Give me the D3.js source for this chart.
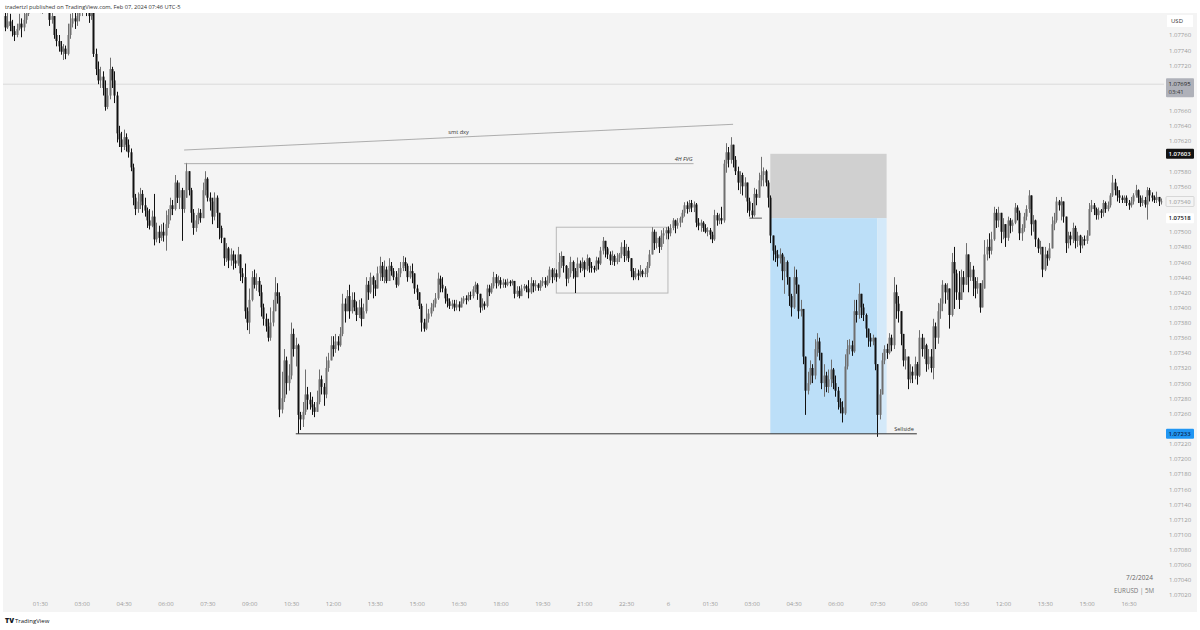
<!DOCTYPE html>
<html><head><meta charset="utf-8">
<script src="https://cdn.jsdelivr.net/npm/d3@7"></script>
<style>html,body{margin:0;padding:0;background:#fff;}svg{display:block;font-family:"Open Sans",sans-serif;}</style>
</head><body><svg id="c" width="1200" height="630"></svg>
<script>
// EURUSD 5M — prices stored as points above 1.07000 (price = 1.07 + v/100000)
const firstOpen = 785;
const closes = [
770,778,772,765,760,768,775,770,780,788, 795,800,805,798,802,796,800,805,795,780,
785,760,752,745,738,742,735,760,775,782, 778,785,790,795,800,792,785,790,735,715,
700,705,690,665,680,715,700,680,630,622, 612,625,615,605,585,545,530,540,550,535,
528,515,508,520,490,500,492,500,495,510, 522,535,530,565,545,555,530,545,580,555,
525,505,515,525,518,555,570,545,540,520, 545,525,505,492,465,478,462,470,462,458,
470,445,440,395,380,410,440,430,435,420, 400,385,375,360,380,395,420,415,265,280,
330,300,310,365,345,350,258,252,262,285, 278,272,268,262,275,305,295,285,320,330,
350,345,355,350,365,405,395,415,395,410, 400,390,400,385,395,430,420,440,430,425,
445,455,440,450,435,455,448,440,430,445, 452,460,455,440,448,445,425,420,402,380,
372,385,392,400,405,412,438,430,425,412, 408,402,405,400,404,400,408,412,410,416,
415,424,430,418,400,405,402,425,420,428, 440,432,436,430,433,430,434,432,435,418,
422,415,425,428,425,420,432,428,430,426, 432,435,430,436,450,440,445,440,460,468,
455,438,445,460,448,440,458,452,460,450, 465,455,452,450,462,458,475,488,478,470,
462,468,460,465,470,480,468,475,465,448, 440,445,442,448,444,446,455,470,500,485,
492,480,495,498,502,498,505,515,508,512, 518,525,535,530,538,532,536,512,508,512,
505,500,502,496,490,522,515,518,515,590, 605,595,615,595,580,565,575,560,565,540,
528,522,550,545,568,575,580,565,545,495, 475,470,465,470,448,460,440,415,400,440,
430,395,398,335,290,300,320,310,345,355, 340,300,310,295,305,318,300,290,275,268,
260,322,345,350,342,395,390,418,400,390, 372,360,355,360,325,258,285,330,345,340,
360,350,420,405,395,365,330,335,305,315, 310,325,310,360,345,350,325,335,320,375,
360,395,405,430,420,425,390,460,445,420, 410,440,430,470,440,450,435,425,432,400,
425,470,480,475,490,525,515,525,500,510, 492,515,508,512,532,525,498,505,520,530,
548,510,515,490,478,480,450,470,465,478, 510,515,540,535,540,520,485,495,490,505,
488,495,482,490,488,495,530,535,530,522, 528,525,538,530,535,548,565,555,548,545,
542,545,538,535,540,548,555,545,538,542, 536,555,548,545,542,546,540,540
];
const highs = [
792,790,788,780,772,775,788,782,792,798, 805,808,812,810,808,805,808,812,808,800,
795,785,768,760,752,748,746,775,788,792, 792,795,800,805,808,805,800,798,790,742,
725,718,712,700,690,730,718,712,685,640, 632,635,630,622,610,590,550,552,558,555,
545,532,530,528,550,512,508,510,512,528, 530,545,542,575,568,565,558,555,591,575,
558,530,522,531,530,565,580,572,552,545, 552,548,525,508,488,485,480,478,475,470,
480,470,452,458,400,425,448,450,445,440, 430,405,392,385,400,410,440,432,420,315,
345,335,325,380,372,360,352,262,275,318, 295,288,282,275,290,318,310,300,335,340,
362,362,365,362,374,418,412,423,430,420, 420,408,410,412,405,440,435,446,442,436,
454,467,460,462,454,465,460,452,448,452, 460,468,466,458,455,458,445,430,420,405,
385,405,398,406,410,419,446,442,440,428, 418,412,410,410,410,408,413,415,416,420,
421,428,434,432,416,412,408,430,430,432, 447,444,442,440,438,437,438,436,437,434,
428,428,430,431,430,436,440,436,436,432, 436,440,440,442,454,452,452,450,472,474,
468,456,452,467,462,452,466,462,466,462, 470,466,460,455,467,466,480,493,488,480,
474,475,470,472,472,486,489,484,480,465, 452,452,450,456,450,452,460,476,506,503,
500,494,502,505,506,507,510,518,516,518, 520,529,539,540,542,542,540,538,518,516,
514,510,506,505,500,529,525,524,533,595, 617,612,625,615,600,586,580,578,572,562,
545,538,558,556,578,599,585,582,568,548, 492,482,476,478,472,467,462,440,418,454,
450,428,410,395,335,315,330,325,358,366, 360,320,325,315,318,331,320,310,295,280,
276,338,357,358,356,410,410,432,415,405, 392,372,366,364,358,325,292,340,350,352,
366,364,440,430,415,395,360,345,335,325, 322,335,328,370,365,360,352,345,345,385,
380,406,412,436,432,432,420,472,480,450, 448,450,448,485,466,460,455,440,440,432,
436,489,490,498,500,533,530,533,525,518, 510,520,518,516,538,535,528,510,525,535,
555,540,522,516,492,488,480,480,475,485, 520,525,546,542,546,540,515,500,500,512,
508,500,496,493,495,502,538,542,538,532, 532,530,542,540,540,551,575,570,560,555,
548,548,548,542,546,551,562,556,548,548, 546,559,558,552,548,553,546,544
];
const lows = [
765,768,765,758,752,757,766,757,765,775, 785,792,796,792,793,789,788,797,790,772,
775,755,745,738,734,727,728,733,755,770, 768,772,778,785,790,785,776,780,731,707,
695,690,680,660,662,675,690,670,618,612, 605,608,606,598,580,535,522,525,530,525,
520,505,503,506,482,486,485,488,487,475, 505,515,522,528,538,530,488,525,545,548,
512,496,500,510,512,525,548,540,528,510, 515,505,490,485,455,460,452,455,450,452,
455,435,432,385,370,365,408,425,422,415, 388,376,368,355,356,375,400,405,255,260,
275,285,290,305,335,322,233,238,242,258, 265,265,258,255,262,272,285,270,280,315,
332,335,340,343,348,362,380,395,385,392, 395,382,386,375,388,392,410,418,412,415,
425,435,435,432,432,438,442,436,426,428, 440,448,448,434,438,432,418,410,398,368,
368,370,380,388,395,400,410,420,420,405, 400,398,398,395,396,395,400,405,404,408,
410,412,420,410,393,396,397,400,415,418, 425,425,428,425,426,426,428,428,429,412,
414,412,418,422,420,412,418,420,422,422, 422,428,426,428,432,432,436,434,438,452,
446,428,432,440,438,419,440,446,448,440, 448,446,446,446,448,450,456,470,466,464,
456,456,455,457,460,465,460,462,460,440, 436,437,436,440,440,440,440,452,470,476,
478,472,476,484,490,490,494,502,498,504, 506,512,520,524,526,526,526,506,502,500,
500,498,494,490,485,488,508,510,510,512, 578,585,590,585,575,555,550,548,545,525,
520,518,520,535,545,560,560,560,532,485, 462,460,454,458,436,418,430,402,388,398,
418,385,388,325,258,285,298,300,305,335, 330,292,282,288,287,295,292,282,265,260,
248,258,318,338,336,340,380,385,386,382, 360,348,348,350,317,229,252,285,325,332,
338,342,345,385,380,350,322,318,292,300, 300,305,298,308,335,332,315,318,314,305,
345,352,385,395,405,410,372,388,398,410, 398,418,420,430,420,435,415,412,418,393,
405,425,462,465,470,488,505,506,485,490, 480,488,498,500,510,515,489,488,500,515,
525,495,500,480,472,470,440,448,455,462, 478,502,512,528,515,512,472,478,482,485,
478,480,472,478,482,484,495,526,522,516, 516,518,520,525,527,532,546,548,540,538,
538,538,534,529,532,536,545,538,533,534, 532,516,540,540,538,538,534,536
];
// bar times: minutes after 00:00 of day 5, one bar each 5 minutes
const firstBarMinute = 15;
const barMinutes = 5;

const timeTicks = [90,180,270,360,450,540,630,720,810,900,990,1080,1170,1260,1350,1440,1530,1620,1710,1800,1890,1980,2070,2160,2250,2340,2430];
const timeTickLabels = ["01:30","03:00","04:30","06:00","07:30","09:00","10:30","12:00","13:30","15:00","16:30","18:00","19:30","21:00","22:30","6","01:30","03:00","04:30","06:00","07:30","09:00","10:30","12:00","13:30","15:00","16:30"];
const priceTicks = [1.0776,1.0774,1.0772,1.077,1.0768,1.0766,1.0764,1.0762,1.076,1.0758,1.0756,1.0754,1.0752,1.075,1.0748,1.0746,1.0744,1.0742,1.074,1.0738,1.0736,1.0734,1.0732,1.073,1.0728,1.0726,1.0724,1.0722,1.072,1.0718,1.0716,1.0714,1.0712,1.071,1.0708,1.0706,1.0704,1.0702];

// drawings (time in minutes, price)
const smtLine = {t:[400,1580], p:[1.07608,1.07642], label:"smt dxy"};
const fvgLine = {t:[400,1495], p:1.07590, label:"4H FVG"};
const rangeBox = {t:[1200,1440], p:[1.07506,1.07419]};
const entryMark = {t:[1615,1642], p:1.07518};
const position = {t:[1660,1890,1910], stop:1.07603, entry:1.07518, target:1.07233};
const sellside = {t:[640,1975], p:1.07233, label:"Sellside"};
const refLine = {p:1.07695, label:"1.07695", sub:"03:41"};
const lastPrice = 1.07540;

const svg = d3.select("#c");
const nBars = closes.length;
const x = d3.scaleLinear().domain([firstBarMinute, firstBarMinute + (nBars-1)*barMinutes]).range([5, 1161.1]);
const y = d3.scaleLinear().domain([1.0702, 1.0776]).range([595, 35]);
const P = v => 1.07 + v/100000;

const bars = closes.map((c,i)=>{
  const o = i===0 ? firstOpen : closes[i-1];
  return {t:firstBarMinute+i*barMinutes, o:P(o), c:P(c), h:P(Math.max(highs[i],o,c)), l:P(Math.min(lows[i],o,c))};
});

// pane
svg.append("rect").attr("x",3).attr("y",13).attr("width",1194).attr("height",599).attr("fill","#f4f4f4");
svg.append("defs").append("clipPath").attr("id","clip").append("rect").attr("x",3).attr("y",13).attr("width",1161).attr("height",585);
const plot = svg.append("g").attr("clip-path","url(#clip)");

// reference horizontal line
plot.append("line").attr("x1",3).attr("x2",1164).attr("y1",y(refLine.p)).attr("y2",y(refLine.p)).attr("stroke","#dadada").attr("stroke-width",1);

// position tool
const pos = position;
plot.append("rect").attr("x",x(pos.t[0])).attr("width",x(pos.t[2])-x(pos.t[0])).attr("y",y(pos.stop)).attr("height",y(pos.entry)-y(pos.stop)).attr("fill","#d0d0d0");
plot.append("rect").attr("x",x(pos.t[0])).attr("width",x(pos.t[1])-x(pos.t[0])).attr("y",y(pos.entry)).attr("height",y(pos.target)-y(pos.entry)).attr("fill","#bcdff8");
plot.append("rect").attr("x",x(pos.t[1])).attr("width",x(pos.t[2])-x(pos.t[1])).attr("y",y(pos.entry)).attr("height",y(pos.target)-y(pos.entry)).attr("fill","#d4e9f9");

// range box
plot.append("rect").attr("x",x(rangeBox.t[0])).attr("width",x(rangeBox.t[1])-x(rangeBox.t[0])).attr("y",y(rangeBox.p[0])).attr("height",y(rangeBox.p[1])-y(rangeBox.p[0])).attr("fill","none").attr("stroke","#b8b8b8").attr("stroke-width",1);

// candles
const upC = "#6f6f6f", dnC = "#111111";
const cg = plot.append("g");
cg.selectAll("line").data(bars).join("line")
  .attr("x1",d=>Math.round(x(d.t))+0.5).attr("x2",d=>Math.round(x(d.t))+0.5)
  .attr("y1",d=>y(d.h)).attr("y2",d=>y(d.l))
  .attr("stroke",d=>d.c>=d.o?upC:dnC).attr("stroke-width",1);
cg.selectAll("rect").data(bars).join("rect")
  .attr("x",d=>Math.round(x(d.t))-0.5).attr("width",2)
  .attr("y",d=>y(Math.max(d.o,d.c))).attr("height",d=>Math.max(0.8,Math.abs(y(d.o)-y(d.c))))
  .attr("fill",d=>d.c>=d.o?upC:dnC);

// drawings
plot.append("line").attr("x1",x(smtLine.t[0])).attr("x2",x(smtLine.t[1])).attr("y1",y(smtLine.p[0])).attr("y2",y(smtLine.p[1])).attr("stroke","#9a9a9a").attr("stroke-width",0.8);
const smid = (smtLine.t[0]+smtLine.t[1])/2, spm = (smtLine.p[0]+smtLine.p[1])/2;
plot.append("text").attr("x",x(smid)).attr("y",y(spm)-3.5).attr("text-anchor","middle").attr("font-size",5.6).attr("fill","#333").text(smtLine.label);
plot.append("line").attr("x1",x(fvgLine.t[0])).attr("x2",x(fvgLine.t[1])).attr("y1",y(fvgLine.p)).attr("y2",y(fvgLine.p)).attr("stroke","#9a9a9a").attr("stroke-width",0.8);
plot.append("text").attr("x",x(fvgLine.t[1])-1).attr("y",y(fvgLine.p)-3).attr("text-anchor","end").attr("font-size",5.6).attr("font-style","italic").attr("fill","#333").text(fvgLine.label);
plot.append("line").attr("x1",x(entryMark.t[0])).attr("x2",x(entryMark.t[1])).attr("y1",y(entryMark.p)).attr("y2",y(entryMark.p)).attr("stroke","#555").attr("stroke-width",1);
plot.append("line").attr("x1",x(sellside.t[0])).attr("x2",x(sellside.t[1])).attr("y1",y(sellside.p)).attr("y2",y(sellside.p)).attr("stroke","#333").attr("stroke-width",1);
plot.append("text").attr("x",x(sellside.t[1])-3).attr("y",y(sellside.p)-2.5).attr("text-anchor","end").attr("font-size",5.6).attr("fill","#333").text(sellside.label);

// axis label tags (price, height above, height below)
const tagPrices = [[refLine.p,6,13],[position.stop,5,5],[lastPrice,5,5],[position.entry,5,5],[sellside.p,5,5]];
const visibleTicks = priceTicks.filter(t => !tagPrices.some(([p,a,b]) => y(t) > y(p)-a-3.5 && y(t) < y(p)+b+3.5));

// price axis
const ya = d3.axisRight(y).tickValues(visibleTicks).tickFormat(d3.format(".5f")).tickSize(0).tickPadding(0);
const yg = svg.append("g").attr("transform","translate(1169,0)").call(ya);
yg.select(".domain").remove();
yg.selectAll("text").attr("font-size",6).attr("fill","#9a9a9a").attr("font-family","Open Sans, sans-serif").attr("dy","0.33em");

// time axis
const xa = d3.axisBottom(x).tickValues(timeTicks).tickFormat((d,i)=>timeTickLabels[i]).tickSize(0).tickPadding(0);
const xg = svg.append("g").attr("transform","translate(0,602.5)").call(xa);
xg.select(".domain").remove();
xg.selectAll("text").attr("font-size",6).attr("fill","#9a9a9a").attr("font-family","Open Sans, sans-serif").attr("dy","0.5em");

function tag(price, txt, fill, color, stroke){
  const yy = y(price);
  svg.append("rect").attr("x",1166).attr("y",yy-5).attr("width",28).attr("height",10).attr("fill",fill).attr("stroke",stroke||"none").attr("stroke-width",0.7).attr("rx",1);
  svg.append("text").attr("x",1168.5).attr("y",yy).attr("dy","0.35em").attr("font-size",6).attr("fill",color).attr("font-weight","600").text(txt);
}
{
  const yy = y(refLine.p);
  svg.append("rect").attr("x",1166).attr("y",yy-6).attr("width",28).attr("height",19).attr("fill","#afb1b9").attr("rx",1);
  svg.append("text").attr("x",1168.5).attr("y",yy).attr("dy","0.35em").attr("font-size",6).attr("fill","#1e1e1e").text(refLine.label);
  svg.append("text").attr("x",1168.5).attr("y",yy+8).attr("dy","0.35em").attr("font-size",6).attr("fill","#3a3a3a").text(refLine.sub);
}
tag(position.stop, d3.format(".5f")(position.stop), "#131313", "#ffffff");
tag(lastPrice, d3.format(".5f")(lastPrice), "#f4f4f4", "#b0b0b0", "#c8c8c8");
tag(position.entry, d3.format(".5f")(position.entry), "#ffffff", "#111111");
tag(sellside.p, d3.format(".5f")(sellside.p), "#2196f3", "#0c2750");
// USD
svg.append("rect").attr("x",1167).attr("y",15).attr("width",26).attr("height",12).attr("fill","#ffffff");
svg.append("text").attr("x",1171).attr("y",21).attr("dy","0.35em").attr("font-size",6).attr("fill","#333").text("USD");

// header & footer texts
svg.append("text").attr("x",5).attr("y",9).attr("font-size",5.7).attr("fill","#333").text("tradertzl published on TradingView.com, Feb 07, 2024 07:46 UTC-5");
svg.append("text").attr("x",1153).attr("y",580).attr("text-anchor","end").attr("font-size",6.5).attr("fill","#666").text("7/2/2024");
svg.append("text").attr("x",1154).attr("y",593).attr("text-anchor","end").attr("font-size",6.2).attr("fill","#777").text("EURUSD | 5M");
svg.append("text").attr("x",5).attr("y",623).attr("font-size",7).attr("font-weight","800").attr("fill","#131722").text("TV");
svg.append("text").attr("x",15).attr("y",623).attr("font-size",6).attr("fill","#131722").text("TradingView");
</script></body></html>
